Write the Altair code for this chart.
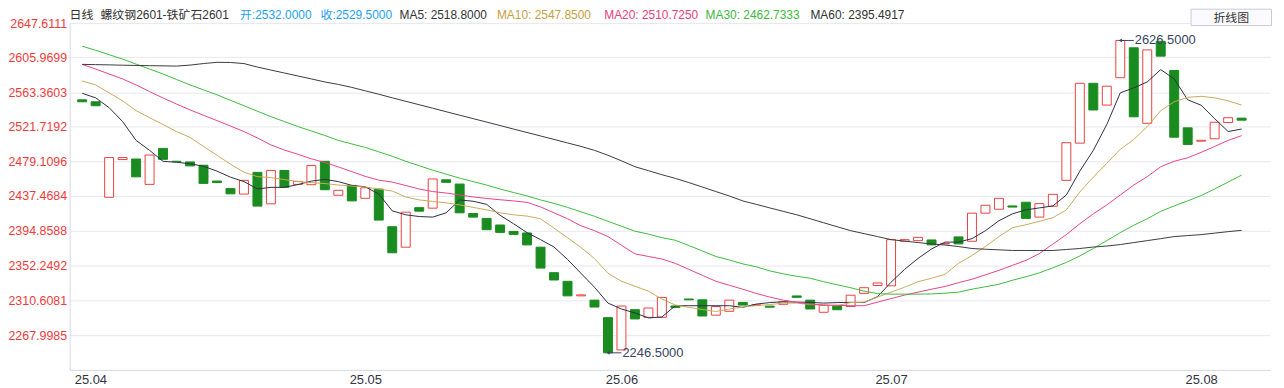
import altair as alt
import pandas as pd

# ---------------- data ----------------
opens = [2554.3, 2551.9, 2435.7, 2481.6, 2482.3, 2451.4, 2495.2, 2479.5, 2478.7, 2474.7,
         2455.5, 2446.3, 2439.6, 2466.0, 2427.7, 2468.3, 2451.4, 2451.0, 2479.5, 2438.2,
         2450.2, 2434.5, 2445.7, 2399.9, 2375.0, 2423.1, 2422.5, 2457.0, 2451.8, 2416.0,
         2410.0, 2402.0, 2394.2, 2392.3, 2375.0, 2344.0, 2333.5, 2315.8, 2310.6, 2289.3,
         2250.0, 2299.0, 2289.7, 2289.7, 2303.5, 2312.0, 2311.0, 2292.3, 2297.0, 2307.8,
         2304.0, 2303.3, 2305.5, 2315.7, 2310.6, 2295.8, 2304.2, 2302.8, 2318.8, 2328.4,
         2328.0, 2382.2, 2383.0, 2383.8, 2379.0, 2387.5, 2382.2, 2416.4, 2421.2, 2425.2,
         2429.7, 2411.6, 2424.8, 2456.3, 2501.6, 2574.4, 2547.9, 2581.2, 2617.6, 2525.7,
         2625.5, 2590.0, 2520.2, 2504.0, 2506.9, 2526.6, 2532.0]
closes = [2551.9, 2547.1, 2484.0, 2484.0, 2460.6, 2487.1, 2481.9, 2479.0, 2473.9, 2452.6,
          2453.6, 2439.9, 2456.3, 2425.0, 2468.4, 2447.8, 2455.0, 2474.3, 2444.9, 2444.2,
          2431.3, 2447.3, 2408.0, 2368.2, 2417.6, 2418.8, 2458.0, 2453.9, 2416.8, 2411.6,
          2396.3, 2393.0, 2390.6, 2377.8, 2349.6, 2335.1, 2315.8, 2317.0, 2302.2, 2246.5,
          2303.4, 2287.7, 2301.0, 2313.9, 2301.5, 2311.0, 2291.3, 2302.8, 2310.6, 2304.6,
          2305.0, 2302.0, 2308.6, 2314.0, 2299.8, 2304.2, 2298.9, 2316.6, 2325.7, 2331.5,
          2384.2, 2384.2, 2387.0, 2377.8, 2379.5, 2379.0, 2416.4, 2426.0, 2434.5, 2423.8,
          2410.0, 2428.0, 2439.3, 2502.1, 2574.4, 2541.9, 2570.8, 2626.5, 2533.6, 2615.0,
          2607.4, 2508.8, 2500.0, 2505.0, 2527.0, 2532.5, 2529.5]

ma5 = [2562.2, 2556.7, 2544.7, 2527.8, 2504.9, 2492.8, 2479.5, 2478.3, 2476.5, 2473.5,
       2467.5, 2460.2, 2454.8, 2445.8, 2447.8, 2447.8, 2451.2, 2455.4, 2457.5, 2454.8,
       2450.2, 2448.5, 2439.7, 2419.2, 2414.4, 2412.3, 2411.6, 2416.8, 2432.5, 2430.9,
       2427.1, 2413.8, 2403.5, 2392.7, 2384.2, 2375.2, 2360.1, 2343.2, 2326.3, 2307.0,
       2299.8, 2295.0, 2288.9, 2290.1, 2303.8, 2303.8, 2303.8, 2303.8, 2303.8, 2301.8,
       2305.8, 2307.6, 2308.6, 2308.2, 2307.9, 2307.0, 2307.6, 2307.9, 2307.6, 2314.9,
       2332.4, 2348.0, 2361.3, 2372.8, 2381.2, 2381.2, 2385.4, 2395.1, 2407.2, 2415.6,
       2420.4, 2422.8, 2425.2, 2438.5, 2467.5, 2492.8, 2524.2, 2562.8, 2568.8, 2576.0,
       2591.1, 2579.7, 2554.3, 2547.7, 2531.4, 2515.7, 2518.8]
ma10 = [2577.2, 2572.4, 2562.8, 2553.1, 2541.1, 2532.6, 2524.2, 2515.7, 2508.5, 2497.6,
        2486.8, 2475.9, 2466.3, 2460.8, 2459.6, 2457.2, 2454.8, 2453.6, 2452.4, 2450.6,
        2449.4, 2448.2, 2445.8, 2443.3, 2436.1, 2432.5, 2430.7, 2428.9, 2426.5, 2423.4,
        2420.4, 2416.8, 2414.4, 2412.8, 2409.6, 2398.1, 2386.6, 2374.6, 2361.3, 2343.2,
        2333.6, 2327.5, 2321.5, 2311.9, 2304.6, 2301.8, 2299.2, 2296.8, 2299.8, 2302.2,
        2304.0, 2305.2, 2307.0, 2307.0, 2305.2, 2304.6, 2303.8, 2307.6, 2308.2, 2314.3,
        2320.3, 2326.3, 2333.0, 2337.2, 2342.0, 2355.3, 2364.9, 2375.8, 2387.9, 2398.7,
        2402.3, 2406.5, 2410.8, 2420.4, 2442.1, 2460.2, 2477.1, 2494.0, 2506.1, 2521.7,
        2541.1, 2551.9, 2557.3, 2558.5, 2556.7, 2553.1, 2547.85]
ma20 = [2597.4, 2591.7, 2585.7, 2579.7, 2572.4, 2564.3, 2556.5, 2549.1, 2542.1, 2535.4,
        2529.0, 2522.4, 2515.7, 2507.9, 2499.4, 2493.2, 2488.0, 2482.5, 2478.0, 2472.7,
        2466.9, 2461.1, 2456.6, 2454.2, 2450.0, 2445.8, 2442.7, 2440.9, 2438.5, 2436.1,
        2434.3, 2432.7, 2431.3, 2429.5, 2424.0, 2416.8, 2409.6, 2401.1, 2395.1, 2387.9,
        2377.4, 2366.9, 2363.7, 2360.7, 2355.3, 2348.0, 2340.8, 2333.6, 2328.7, 2323.9,
        2318.7, 2314.3, 2310.6, 2307.9, 2305.8, 2304.6, 2304.3, 2303.8, 2303.8, 2308.2,
        2312.5, 2316.7, 2320.3, 2323.9, 2327.2, 2331.8, 2336.0, 2341.4, 2346.8, 2352.9,
        2358.9, 2367.3, 2378.8, 2390.3, 2403.5, 2415.6, 2426.5, 2438.5, 2450.6, 2460.8,
        2472.9, 2479.5, 2483.8, 2490.4, 2497.6, 2504.9, 2510.7]
ma30 = [2619.5, 2614.6, 2609.2, 2603.8, 2597.7, 2591.7, 2585.7, 2579.0, 2572.4, 2566.4,
        2560.4, 2553.7, 2547.1, 2540.4, 2533.8, 2527.8, 2521.8, 2516.3, 2510.9, 2504.9,
        2500.6, 2496.4, 2491.0, 2485.6, 2479.5, 2474.1, 2468.7, 2463.8, 2459.0, 2454.8,
        2450.6, 2445.8, 2441.5, 2437.3, 2432.5, 2428.3, 2423.4, 2418.0, 2412.6, 2406.5,
        2400.5, 2394.5, 2390.9, 2386.6, 2383.4, 2377.0, 2370.4, 2363.7, 2359.5, 2354.7,
        2351.1, 2346.2, 2342.6, 2339.6, 2337.2, 2333.0, 2329.3, 2325.7, 2321.5, 2318.5,
        2317.9, 2317.9, 2317.9, 2318.1, 2319.1, 2320.3, 2323.9, 2326.9, 2329.9, 2334.8,
        2339.0, 2343.8, 2349.9, 2356.5, 2364.3, 2373.4, 2383.0, 2392.7, 2401.7, 2409.6,
        2418.6, 2425.2, 2431.3, 2437.9, 2445.8, 2454.2, 2462.7]
ma60 = [2597.4, 2597.1, 2596.8, 2596.4, 2596.1, 2595.8, 2595.6, 2595.3, 2596.5, 2598.4,
        2599.9, 2599.7, 2598.4, 2594.1, 2590.5, 2586.9, 2583.3, 2579.7, 2576.0, 2573.0,
        2569.4, 2565.2, 2561.1, 2556.7, 2552.5, 2548.3, 2544.1, 2539.8, 2535.6, 2531.4,
        2527.2, 2523.0, 2518.7, 2514.5, 2510.3, 2506.1, 2501.8, 2497.6, 2492.8, 2486.8,
        2480.1, 2472.9, 2468.1, 2463.2, 2458.7, 2453.6, 2448.2, 2442.7, 2437.3, 2431.3,
        2427.1, 2422.8, 2418.6, 2414.4, 2409.6, 2404.7, 2399.9, 2395.1, 2391.5, 2387.9,
        2384.2, 2382.4, 2380.6, 2379.0, 2377.6, 2375.8, 2373.4, 2372.5, 2371.8, 2371.0,
        2371.0, 2371.0, 2371.0, 2372.2, 2373.4, 2375.2, 2376.4, 2378.2, 2380.6, 2383.0,
        2385.4, 2387.9, 2389.1, 2390.3, 2392.1, 2393.9, 2395.5]

ma_names = ["MA5", "MA10", "MA20", "MA30", "MA60"]
x_tick_index = [0, 21, 40, 60, 83]
x_tick_labels = ["25.04", "25.05", "25.06", "25.07", "25.08"]
y_ticks = [2647.6111, 2605.9699, 2563.3603, 2521.7192, 2479.1096,
           2437.4684, 2394.8588, 2352.2492, 2310.6081, 2267.9985]
ann_index = [39, 77]
ann_value = [2246.5, 2626.5]

header_texts = ["日线", "螺纹钢2601-铁矿石2601", "开:2532.0000", "收:2529.5000",
                "MA5: 2518.8000", "MA10: 2547.8500", "MA20: 2510.7250",
                "MA30: 2462.7333", "MA60: 2395.4917"]

# ---------------- styles / layout ----------------
FONT = "Liberation Sans, Noto Sans CJK SC, sans-serif"
RED = "#ea4242"
LABEL_RED = "#ef3b3b"
GREEN = "#1a8c1f"
NAVY = "#3a4563"
GRID = "#e7e7f1"
AXIS = "#d8d8e6"
ma_colors = ["#2e2e48", "#c9aa5c", "#e8438a", "#3dbb3d", "#3b3b3b"]
header_colors = ["#333333", "#333333", "#1ea0f0", "#1ea0f0", "#333333",
                 "#c4a042", "#e8407e", "#3cb83c", "#333333"]
header_x = [0, 31, 171.5, 252.5, 332, 430, 538, 640, 745.5]

W, H = 1208, 349
X_DOMAIN = [-0.563, 87.74]
Y_DOMAIN = [2225.7, 2647.6111]

x_scale = alt.Scale(domain=X_DOMAIN, nice=False, zero=False)
y_scale = alt.Scale(domain=Y_DOMAIN, nice=False, zero=False)

label_expr = " : ".join(
    f"datum.value == {t} ? '{l}'" for t, l in zip(x_tick_index, x_tick_labels)
) + " : ''"

x_axis = alt.Axis(values=x_tick_index, labelExpr=label_expr, grid=False, ticks=False,
                  domainColor=AXIS, labelColor="#333344", labelFont=FONT,
                  labelFontSize=13, labelPadding=4, title=None,
                  labelAlign={"condition": {"test": "datum.value == 0", "value": "left"},
                              "value": "center"},
                  labelOffset={"condition": {"test": "datum.value == 0", "value": -8},
                               "value": 0})
y_axis = alt.Axis(values=y_ticks, format=".4f", grid=True, gridColor=GRID, ticks=False,
                  domainColor=AXIS, labelColor=LABEL_RED, labelFont=FONT,
                  labelFontSize=12.5, labelPadding=3, title=None)

X = alt.X("i:Q", scale=x_scale, axis=x_axis)

candles = pd.DataFrame({"i": list(range(len(opens))), "open": opens, "close": closes})

rows = []
for name, series in zip(ma_names, [ma5, ma10, ma20, ma30, ma60]):
    for i, v in enumerate(series):
        rows.append({"i": i, "v": v, "ma": name})
ma_df = pd.DataFrame(rows)

ann = pd.DataFrame({"i": ann_index, "v": ann_value,
                    "label": [f"{v:.4f}" for v in ann_value]})

header_df = pd.DataFrame({"t": header_texts, "c": header_colors, "px": header_x})

up = "datum.close >= datum.open"
bars = alt.Chart(candles).mark_bar(size=9, strokeWidth=1).encode(
    x=X,
    y=alt.Y("open:Q", scale=y_scale, axis=y_axis),
    y2="close:Q",
    fill=alt.condition(up, alt.value("#ffffff"), alt.value(GREEN)),
    stroke=alt.condition(up, alt.value(RED), alt.value(GREEN)),
)

lines = alt.Chart(ma_df).mark_line(strokeWidth=1).encode(
    x=X,
    y=alt.Y("v:Q", scale=y_scale, axis=y_axis),
    color=alt.Color("ma:N", scale=alt.Scale(domain=ma_names, range=ma_colors), legend=None),
)

ann_rule = alt.Chart(ann).transform_calculate(i2="datum.i + 1").mark_rule(
    color=NAVY, strokeWidth=1).encode(
    x=X, x2="i2:Q", y=alt.Y("v:Q", scale=y_scale, axis=y_axis))
ann_head = alt.Chart(ann).mark_point(shape="triangle-left", size=14, filled=True,
                                     color=NAVY, opacity=1).encode(
    x=X, y=alt.Y("v:Q", scale=y_scale, axis=y_axis))
ann_text = alt.Chart(ann).transform_calculate(i2="datum.i + 1").mark_text(
    align="left", baseline="middle", dx=1, font=FONT, fontSize=13, color=NAVY).encode(
    x=alt.X("i2:Q", scale=x_scale, axis=x_axis),
    y=alt.Y("v:Q", scale=y_scale, axis=y_axis), text="label:N")

header = alt.Chart(header_df).mark_text(align="left", baseline="middle", font=FONT,
                                        fontSize=12).encode(
    x=alt.X("px:Q", scale=None), y=alt.value(-8.5), text="t:N",
    color=alt.Color("c:N", scale=None))

button_box = alt.Chart(alt.Data(values=[{}])).mark_rect(
    fill="#fbfbfe", stroke="#c9c9dd", strokeWidth=1).encode(
    x=alt.value(1128.5), x2=alt.value(1209.5), y=alt.value(-14), y2=alt.value(2.5))
button_text = alt.Chart(alt.Data(values=[{}])).mark_text(
    align="center", baseline="middle", font="Noto Sans CJK SC", fontSize=12,
    color="#333333").encode(x=alt.value(1169), y=alt.value(-5.5), text=alt.value("折线图"))

chart = alt.layer(bars, lines, ann_rule, ann_head, ann_text, header, button_box,
                  button_text).properties(
    width=W, height=H,
    autosize=alt.AutoSizeParams(type="none"),
    padding={"left": 62, "top": 14, "right": 6, "bottom": 17},
    background="#ffffff",
).configure_view(stroke=None)

chart.save("out.html", embed_options={"renderer": "svg", "actions": False})
